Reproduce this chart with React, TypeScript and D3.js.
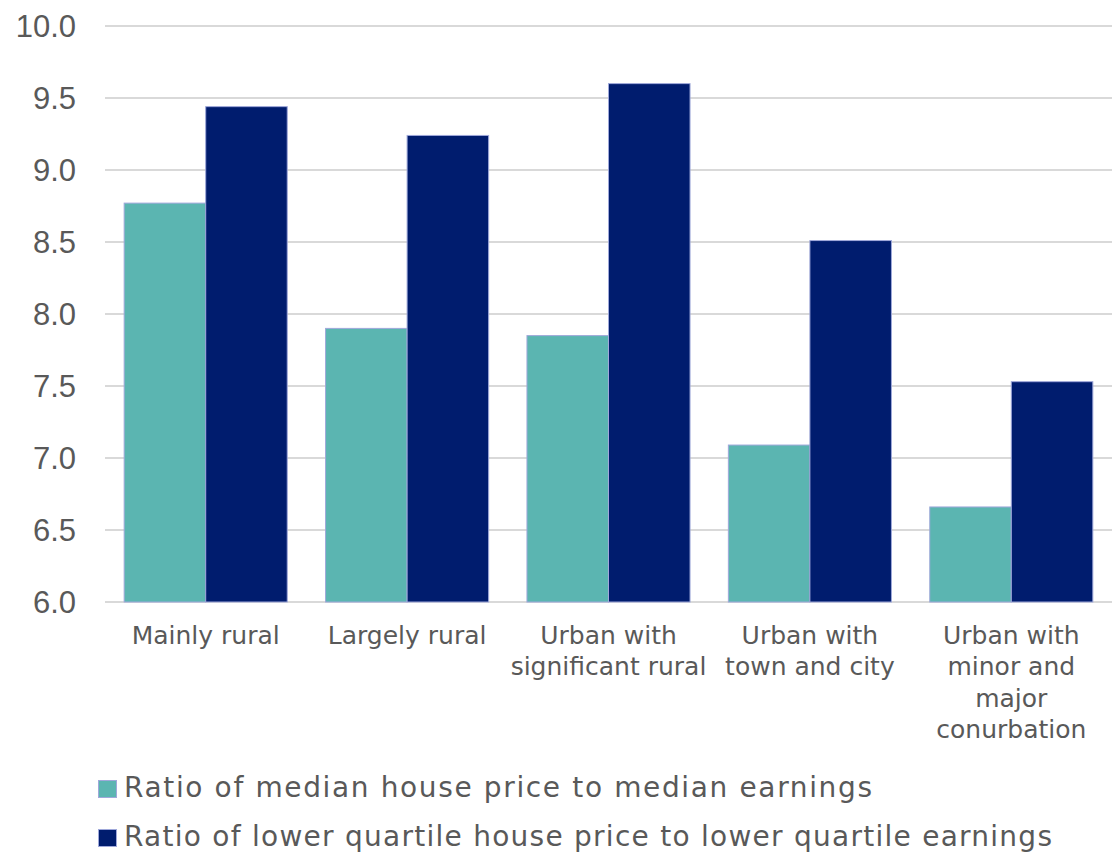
import React from "react";
import * as d3 from "d3";

const categories = [
  ["Mainly rural"],
  ["Largely rural"],
  ["Urban with", "significant rural"],
  ["Urban with", "town and city"],
  ["Urban with", "minor and", "major", "conurbation"],
];
const seriesNames = [
  "Ratio of median house price to median earnings",
  "Ratio of lower quartile house price to lower quartile earnings",
];
const medianRatio = [8.77, 7.9, 7.85, 7.09, 6.66];
const lowerQuartileRatio = [9.44, 9.24, 9.6, 8.51, 7.53];
const yTicks = [6.0, 6.5, 7.0, 7.5, 8.0, 8.5, 9.0, 9.5, 10.0];

const colors = ["#5bb5b1", "#001c6e"];
const FONT = "'DejaVu Sans', sans-serif";
const legendWidths = [748, 928];

export default function App() {
  const W = 1114, H = 856;
  const left = 105, right = 1112, top = 26, bottom = 602;
  const y = d3.scaleLinear().domain([6, 10]).range([bottom, top]);
  const x0 = d3.scaleBand<number>().domain(d3.range(categories.length)).range([left, right]);
  const x1 = d3.scaleBand<number>().domain([0, 1]).range([0, x0.bandwidth()]).paddingInner(0).paddingOuter(0.235);
  const data = [medianRatio, lowerQuartileRatio];
  return (
    <svg width={W} height={H} style={{ position: "absolute", left: 0, top: 0 }} fontFamily={FONT}>
      {yTicks.map((t) => (
        <g key={t}>
          <line x1={left} x2={right} y1={y(t)} y2={y(t)} stroke="#d9d9d9" strokeWidth={2} />
          <text x={76} y={y(t) + 11} textAnchor="end" fontSize={31} fill="#595959" fontFamily="'Liberation Sans', sans-serif">
            {d3.format(".1f")(t)}
          </text>
        </g>
      ))}
      {data.map((vals, s) =>
        vals.map((v, i) => (
          <rect
            key={`${s}-${i}`}
            x={(x0(i) as number) + (x1(s) as number)}
            y={y(v)}
            width={x1.bandwidth()}
            height={y(6) - y(v)}
            fill={colors[s]}
            stroke="#9fa8da"
            strokeWidth={1}
          />
        ))
      )}
      {categories.map((lines, i) => (
        <text key={i} textAnchor="middle" fontSize={25} fill="#595959">
          {lines.map((l, j) => (
            <tspan key={j} x={(x0(i) as number) + x0.bandwidth() / 2} y={644 + j * 31.3}>
              {l}
            </tspan>
          ))}
        </text>
      ))}
      {seriesNames.map((n, s) => (
        <g key={n}>
          <rect x={98.5} y={780.5 + s * 49} width={18} height={17} fill={colors[s]} stroke="#9fa8da" strokeWidth={1} />
          <text x={124} y={797 + s * 49} fontSize={28} fill="#595959" textLength={legendWidths[s]} lengthAdjust="spacing">
            {n}
          </text>
        </g>
      ))}
    </svg>
  );
}
